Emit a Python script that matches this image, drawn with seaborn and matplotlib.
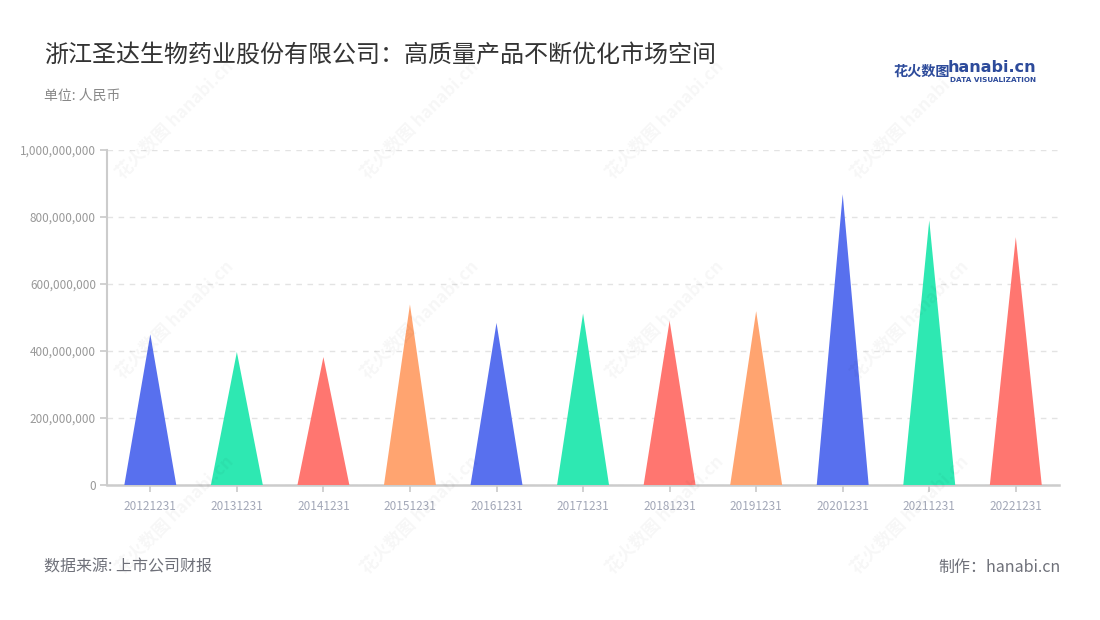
import pandas as pd
import matplotlib.pyplot as plt
import seaborn as sns
from matplotlib.patches import Polygon
from matplotlib.ticker import FuncFormatter

dates = ['20121231', '20131231', '20141231', '20151231', '20161231', '20171231',
         '20181231', '20191231', '20201231', '20211231', '20221231']
revenue = [450e6, 397e6, 382e6, 539e6, 484e6, 512e6, 490e6, 519e6, 868e6, 790e6, 740e6]
colors = ['#5870EE', '#2EE8B2', '#FF7670', '#FFA470']

sns.set_theme(style='white')
plt.rcParams['font.family'] = ['Noto Sans CJK SC', 'DejaVu Sans']

fig = plt.figure(figsize=(11, 6.2), dpi=100)
ax = fig.add_axes([0.0973, 0.2177, 0.8655, 0.5403])

df = pd.DataFrame({'date': dates, 'value': revenue})
palette = [colors[i % len(colors)] for i in range(len(dates))]
sns.barplot(data=df, x='date', y='value', hue='date', palette=palette, legend=False,
            width=0.6, saturation=1, ax=ax)

# turn each bar into a triangle with the same base and height
for p in list(ax.patches):
    x0, w, h = p.get_x(), p.get_width(), p.get_height()
    tri = Polygon([(x0, 0), (x0 + w / 2, h), (x0 + w, 0)], closed=True,
                  facecolor=p.get_facecolor(), edgecolor='none', zorder=3)
    ax.add_patch(tri)
    p.remove()

ax.set_xlim(-0.5, len(dates) - 0.5)
ax.set_ylim(0, 1e9)
ax.set_yticks([0, 2e8, 4e8, 6e8, 8e8, 1e9])
ax.yaxis.set_major_formatter(FuncFormatter(lambda v, _: f'{int(v):,}'))
ax.set_xlabel('')
ax.set_ylabel('')

ax.grid(axis='y', color='#e3e3e3', linestyle=(0, (4, 4)), linewidth=1)
ax.set_axisbelow(True)
for s in ['top', 'right']:
    ax.spines[s].set_visible(False)
ax.spines['left'].set_color('#cccccc')
ax.spines['left'].set_linewidth(1.5)
ax.spines['bottom'].set_color('#cccccc')
ax.spines['bottom'].set_linewidth(1.8)
ax.tick_params(axis='y', length=5, color='#cccccc', labelsize=8.5, labelcolor='#999999', pad=3)
ax.tick_params(axis='x', length=5, color='#cccccc', labelsize=8.5, labelcolor='#a3a8b8', pad=6)
ax.tick_params(axis='both', which='major', bottom=True, left=True)

# watermarks
for wx in [175, 420, 665, 910]:
    for wy in [120, 320, 515]:
        fig.text(wx / 1100, 1 - wy / 620, '花火数图 hanabi.cn', fontsize=12.5, weight='bold',
                 color='#000000', alpha=0.035, rotation=45, ha='center', va='center', zorder=0)

fig.text(44 / 1100, 1 - 55 / 620, '浙江圣达生物药业股份有限公司：高质量产品不断优化市场空间',
         fontsize=17.3, color='#333333', ha='left', va='center')
fig.text(44 / 1100, 1 - 96 / 620, '单位: 人民币', fontsize=10, color='#888888', ha='left', va='center')
fig.text(44 / 1100, 1 - 567 / 620, '数据来源: 上市公司财报', fontsize=11.5, color='#6e7079', ha='left', va='center')
fig.text(1061 / 1100, 1 - 567 / 620, '制作：hanabi.cn', fontsize=11.5, color='#6e7079', ha='right', va='center')

# logo
fig.text(893 / 1100, 1 - 72 / 620, '花火数图', fontsize=10.2, weight='bold', color='#2d4b9b',
         ha='left', va='center')
fig.text(948 / 1100, 1 - 68 / 620, 'hanabi.cn', fontsize=11.5, weight='bold', color='#2d4b9b',
         ha='left', va='center', family=['DejaVu Sans'])
fig.text(950 / 1100, 1 - 80 / 620, 'DATA VISUALIZATION', fontsize=5.2, weight='bold', color='#2d4b9b',
         ha='left', va='center', family=['DejaVu Sans'])

fig.savefig('out.png', dpi=100)
